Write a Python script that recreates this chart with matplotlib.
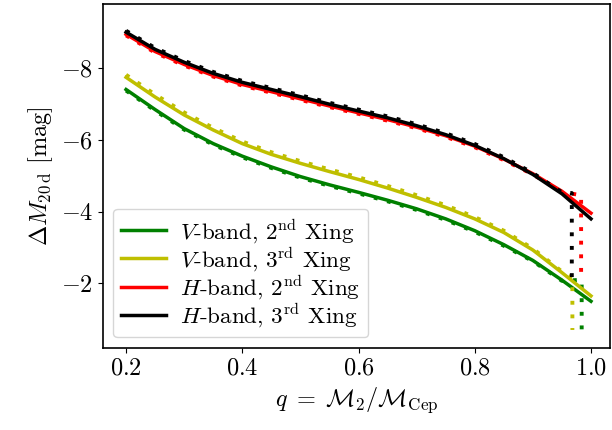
import numpy as np
import matplotlib
matplotlib.use("Agg")
import matplotlib.pyplot as plt

plt.rcParams["font.family"] = "serif"
plt.rcParams["font.serif"] = ["cmr10", "DejaVu Serif"]
plt.rcParams["mathtext.fontset"] = "cm"
plt.rcParams["axes.formatter.use_mathtext"] = True
plt.rcParams["font.size"] = 17.5
plt.rcParams["axes.linewidth"] = 1.2

# fitted curves
q_fit = [0.20, 0.25, 0.30, 0.35, 0.40, 0.45, 0.50, 0.55, 0.60,
         0.65, 0.70, 0.75, 0.80, 0.85, 0.90, 0.95, 1.00]
fit_v2 = [-7.41, -6.85, -6.32, -5.90, -5.55, -5.25, -4.98, -4.75, -4.54,
          -4.32, -4.08, -3.80, -3.47, -3.08, -2.64, -2.09, -1.50]
fit_v3 = [-7.75, -7.20, -6.70, -6.28, -5.90, -5.60, -5.35, -5.12, -4.90,
          -4.66, -4.40, -4.12, -3.80, -3.42, -2.93, -2.30, -1.65]
fit_h2 = [-8.95, -8.47, -8.11, -7.80, -7.55, -7.35, -7.15, -6.95, -6.76,
          -6.57, -6.36, -6.12, -5.83, -5.47, -5.06, -4.57, -3.96]
fit_h3 = [-9.01, -8.53, -8.17, -7.86, -7.61, -7.41, -7.21, -7.00, -6.81,
          -6.62, -6.40, -6.15, -5.85, -5.48, -5.04, -4.50, -3.80]

# simulated values (dotted)
q_sim = [0.20, 0.25, 0.30, 0.35, 0.40, 0.45, 0.50, 0.55, 0.60,
         0.65, 0.70, 0.75, 0.80, 0.85, 0.90, 0.95]
sim_v2 = [-7.38, -6.82, -6.29, -5.87, -5.52, -5.22, -4.95, -4.72, -4.51,
          -4.29, -4.05, -3.77, -3.44, -3.05, -2.62, -2.07]
sim_v3 = [-7.82, -7.27, -6.77, -6.34, -5.96, -5.66, -5.41, -5.18, -4.96,
          -4.72, -4.46, -4.18, -3.85, -3.47, -2.97, -2.33]
sim_h2 = [-8.92, -8.44, -8.08, -7.77, -7.52, -7.32, -7.12, -6.92, -6.73,
          -6.54, -6.33, -6.09, -5.80, -5.44, -5.04, -4.55]
sim_h3 = [-9.05, -8.57, -8.21, -7.90, -7.65, -7.45, -7.25, -7.04, -6.85,
          -6.66, -6.44, -6.19, -5.89, -5.52, -5.08, -4.54]
# last points (q, M) where the tracks break off
end_v2 = [(0.984, -2.10), (0.984, -0.50)]
end_v3 = [(0.968, -2.15), (0.968, -0.70)]
end_h2 = [(0.983, -4.46), (0.983, -2.20)]
end_h3 = [(0.967, -4.52), (0.967, -2.10)]

labels = [r"$V$-band, 2$^{\rm nd}$ Xing", r"$V$-band, 3$^{\rm rd}$ Xing",
          r"$H$-band, 2$^{\rm nd}$ Xing", r"$H$-band, 3$^{\rm rd}$ Xing"]
colors = ["g", "y", "r", "k"]

fig = plt.figure(figsize=(6.12, 4.3), dpi=100)
ax = fig.add_axes([0.168, 0.191, 0.829, 0.800])

fits = [fit_v2, fit_v3, fit_h2, fit_h3]
sims = [sim_v2, sim_v3, sim_h2, sim_h3]
ends = [end_v2, end_v3, end_h2, end_h3]
for fit, sim, end, c, lab in zip(fits, sims, ends, colors, labels):
    ax.plot(q_fit, fit, color=c, lw=2.5, label=lab)
    qs = q_sim + [p[0] for p in end]
    ms = sim + [p[1] for p in end]
    ax.plot(qs, ms, color=c, lw=2.8, linestyle=(0, (1, 2.5)))

ax.set_xlim(0.16, 1.033)
ax.set_ylim(-0.2, -9.8)
ax.set_xticks([0.2, 0.4, 0.6, 0.8, 1.0])
ax.set_yticks([-8, -6, -4, -2])
ax.set_xlabel(r"$q\;=\;\mathcal{M}_2/\mathcal{M}_{\rm Cep}$")
ax.set_ylabel(r"$\Delta M_{20\,{\rm d}}$ [mag]")
ax.legend(loc="lower left", fontsize=16.6, labelspacing=0.02,
          borderaxespad=0.45, borderpad=0.35, handletextpad=0.6,
          handlelength=1.95)

fig.savefig("out.png", dpi=100)
